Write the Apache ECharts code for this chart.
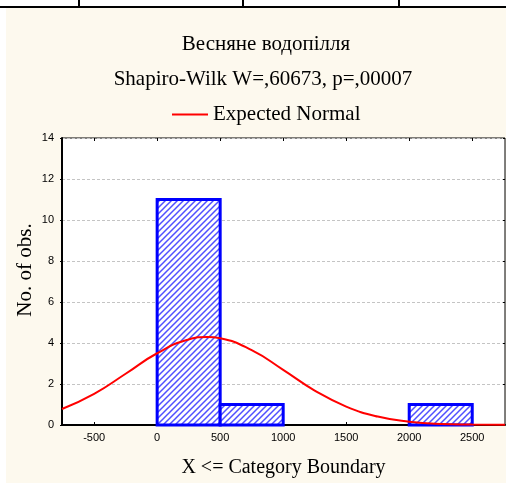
<!DOCTYPE html>
<html lang="uk">
<head>
    <meta charset="UTF-8">
    <title>Весняне водопілля</title>
    <style>
        html, body { margin: 0; padding: 0; background: #fff; }
        #main { width: 506px; height: 483px; }
    </style>
</head>
<body>
<div id="main"></div>
<script src="https://cdn.jsdelivr.net/npm/echarts@6/dist/echarts.min.js"></script>
<script>
    // histogram bins (upper boundary = binEnds)
    var binStarts = [0, 500, 1000, 1500, 2000];
    var binEnds = [500, 1000, 1500, 2000, 2500];
    var binCounts = [11, 1, 0, 0, 1];

    // expected normal curve
    var curveX = [-755, -500, -250, 0, 250, 400, 500, 750, 1000, 1250, 1500, 1750, 2000, 2250, 2500, 2760];
    var curveY = [0.78, 1.52, 2.5, 3.5, 4.17, 4.29, 4.23, 3.65, 2.69, 1.68, 0.9, 0.41, 0.16, 0.05, 0.02, 0.01];

    var xTicks = [-500, 0, 500, 1000, 1500, 2000, 2500];

    var bins = [];
    for (var i = 0; i < binStarts.length; i++) {
        bins.push([binStarts[i], binEnds[i], binCounts[i]]);
    }
    var curve = [];
    for (var j = 0; j < curveX.length; j++) {
        curve.push([curveX[j], curveY[j]]);
    }

    // hatch fill
    var tile = document.createElement('canvas');
    tile.width = 6;
    tile.height = 6;
    var ctx = tile.getContext('2d');
    ctx.fillStyle = '#fff';
    ctx.fillRect(0, 0, 6, 6);
    ctx.strokeStyle = '#5050ff';
    ctx.lineWidth = 1.5;
    ctx.beginPath();
    ctx.moveTo(0, 6); ctx.lineTo(6, 0);
    ctx.moveTo(-1, 1); ctx.lineTo(1, -1);
    ctx.moveTo(5, 7); ctx.lineTo(7, 5);
    ctx.stroke();

    var serif = '"Liberation Serif", "DejaVu Serif", serif';
    var sans = '"Liberation Sans", Arial, sans-serif';

    var myChart = echarts.init(document.getElementById('main'));
    var option = {
        backgroundColor: '#fff',
        animation: false,
        graphic: [
            { type: 'rect', shape: { x: 6, y: 8, width: 500, height: 475 }, style: { fill: '#fdf9ee' }, z: -10 },
            { type: 'line', shape: { x1: 0, y1: 7, x2: 506, y2: 7 }, style: { stroke: '#000', lineWidth: 2 } },
            { type: 'line', shape: { x1: 79, y1: 0, x2: 79, y2: 7 }, style: { stroke: '#000', lineWidth: 2 } },
            { type: 'line', shape: { x1: 243, y1: 0, x2: 243, y2: 7 }, style: { stroke: '#000', lineWidth: 2 } },
            { type: 'line', shape: { x1: 399, y1: 0, x2: 399, y2: 7 }, style: { stroke: '#000', lineWidth: 2 } },
            {
                type: 'text', x: 25, y: 270, rotation: Math.PI / 2,
                style: {
                    text: 'No. of obs.', fill: '#000', font: '21px ' + serif,
                    align: 'center', verticalAlign: 'middle'
                }
            }
        ],
        title: [{
            text: 'Весняне водопілля',
            left: 261,
            top: 29,
            textAlign: 'center',
            textStyle: { fontFamily: serif, fontSize: 21, fontWeight: 'normal', color: '#000' }
        }, {
            text: 'Shapiro-Wilk W=,60673, p=,00007',
            left: 258,
            top: 64,
            textAlign: 'center',
            textStyle: { fontFamily: serif, fontSize: 21, fontWeight: 'normal', color: '#000' }
        }],
        legend: {
            top: 99,
            left: 167,
            icon: 'rect',
            itemWidth: 36,
            itemHeight: 2,
            itemGap: 10,
            data: ['Expected Normal'],
            textStyle: { fontFamily: serif, fontSize: 21, color: '#000' }
        },
        grid: {
            left: 62,
            right: 1,
            top: 138,
            bottom: 58,
            show: true,
            backgroundColor: '#fff',
            borderColor: '#000',
            borderWidth: 1
        },
        xAxis: [{
            type: 'value',
            min: -755,
            max: 2760,
            name: 'X <= Category Boundary',
            nameLocation: 'middle',
            nameGap: 33,
            nameTextStyle: { fontFamily: serif, fontSize: 20, color: '#000' },
            axisLine: { show: true, onZero: false, lineStyle: { color: '#000', width: 2 } },
            axisTick: { show: true, inside: true, length: 3, customValues: xTicks, lineStyle: { color: '#000' } },
            axisLabel: {
                customValues: xTicks, margin: 7, fontFamily: sans, fontSize: 11, color: '#000',
                formatter: function (v) { return String(v); }
            },
            splitLine: { show: false }
        }, {
            type: 'value',
            position: 'top',
            min: -755,
            max: 2760,
            axisLine: { show: false, onZero: false },
            axisTick: { show: true, inside: true, length: 3, customValues: xTicks, lineStyle: { color: '#000' } },
            axisLabel: { show: false },
            splitLine: { show: false }
        }],
        yAxis: [{
            type: 'value',
            min: 0,
            max: 14,
            interval: 2,
            axisLine: { show: true, onZero: false, lineStyle: { color: '#000', width: 2 } },
            axisTick: { show: true, length: 2, lineStyle: { color: '#000' } },
            axisLabel: { margin: 8, fontFamily: sans, fontSize: 11, color: '#000' },
            splitLine: { show: true, lineStyle: { color: '#c4c4c4', type: [3, 2], width: 1 } }
        }, {
            type: 'value',
            position: 'right',
            min: 0,
            max: 14,
            interval: 2,
            axisLine: { show: false, onZero: false },
            axisTick: { show: true, inside: true, length: 2, lineStyle: { color: '#000' } },
            axisLabel: { show: false },
            splitLine: { show: false }
        }],
        series: [{
            name: 'bins',
            type: 'custom',
            data: bins,
            z: 2,
            renderItem: function (params, api) {
                if (!api.value(2)) return null;
                var p0 = api.coord([api.value(0), 0]);
                var p1 = api.coord([api.value(1), api.value(2)]);
                return {
                    type: 'rect',
                    shape: { x: p0[0], y: p1[1], width: p1[0] - p0[0], height: p0[1] - p1[1] },
                    style: { fill: { image: tile, repeat: 'repeat' }, stroke: '#0000ff', lineWidth: 3 }
                };
            }
        }, {
            name: 'Expected Normal',
            type: 'line',
            data: curve,
            smooth: true,
            symbol: 'none',
            z: 3,
            itemStyle: { color: '#ff0000' },
            lineStyle: { color: '#ff0000', width: 2 }
        }]
    };
    myChart.setOption(option);
</script>
</body>
</html>
